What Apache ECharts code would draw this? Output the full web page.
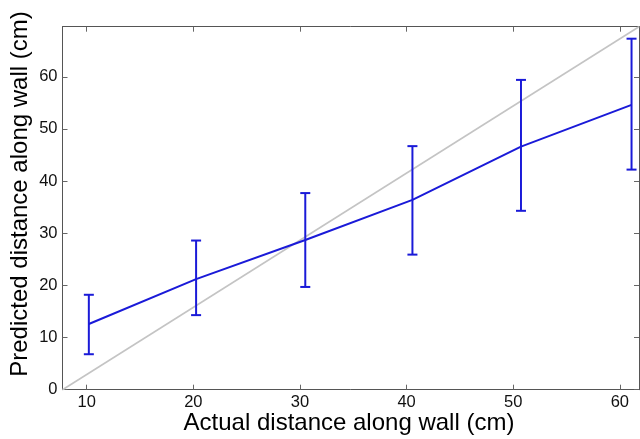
<!DOCTYPE html>
<html>
<head>
<meta charset="utf-8">
<script src="https://cdn.jsdelivr.net/npm/echarts@6/dist/echarts.min.js"></script>
<style>
html,body{margin:0;padding:0;background:#fff;}
#chart{width:640px;height:439px;}
</style>
</head>
<body>
<div id="chart"></div>
<script>
// Data
const xActual = [10.2, 20.26, 30.5, 40.55, 50.73, 61.1];
const meanPred = [12.6, 21.2, 28.7, 36.4, 46.6, 54.6];
const lowerPred = [6.8, 14.3, 19.7, 25.9, 34.3, 42.2];
const upperPred = [18.2, 28.6, 37.7, 46.7, 59.4, 67.3];
const refLineX = [7.73, 61.8];
const refLineY = [0, 69.6];
const xTickValues = [10, 20, 30, 40, 50, 60];
const yTickValues = [0, 10, 20, 30, 40, 50, 60];
const xTitle = 'Actual distance along wall (cm)';
const yTitle = 'Predicted distance along wall (cm)';

const X_MIN = 7.73, X_MAX = 61.8, Y_MIN = 0, Y_MAX = 69.6;
const FONT = 'Liberation Sans, Arial, sans-serif';
const AXIS_COLOR = '#555';
const BLUE = '#1a1ad8';

const meanData = xActual.map((x, i) => [x, meanPred[i]]);
const errData = xActual.map((x, i) => [x, lowerPred[i], upperPred[i]]);
const refData = refLineX.map((x, i) => [x, refLineY[i]]);

const chart = echarts.init(document.getElementById('chart'), null, {renderer: 'canvas'});

const axisLineStyle = {show: true, onZero: false, lineStyle: {color: AXIS_COLOR, width: 1}};
function ticks(vals) {
  return {show: true, inside: true, length: 5, customValues: vals, lineStyle: {color: '#666', width: 1}};
}

chart.setOption({
  animation: false,
  backgroundColor: '#fff',
  grid: {left: 62.5, top: 26.7, right: 1, bottom: 49.3, containLabel: false},
  xAxis: [
    {
      type: 'value', min: X_MIN, max: X_MAX, position: 'bottom',
      axisLine: axisLineStyle,
      axisTick: ticks(xTickValues),
      axisLabel: {show: true, customValues: xTickValues, color: '#111', fontSize: 16.5, fontFamily: FONT, margin: 4},
      splitLine: {show: false}
    },
    {
      type: 'value', min: X_MIN, max: X_MAX, position: 'top',
      axisLine: axisLineStyle,
      axisTick: ticks(xTickValues),
      axisLabel: {show: false},
      splitLine: {show: false}
    }
  ],
  yAxis: [
    {
      type: 'value', min: Y_MIN, max: Y_MAX, position: 'left',
      axisLine: axisLineStyle,
      axisTick: ticks(yTickValues),
      axisLabel: {show: true, customValues: yTickValues, color: '#111', fontSize: 16.5, fontFamily: FONT, margin: 5},
      splitLine: {show: false}
    },
    {
      type: 'value', min: Y_MIN, max: Y_MAX, position: 'right',
      axisLine: axisLineStyle,
      axisTick: ticks(yTickValues),
      axisLabel: {show: false},
      splitLine: {show: false}
    }
  ],
  graphic: [
    {
      type: 'text', x: 349, y: 423,
      style: {text: xTitle, font: '24px ' + FONT, fill: '#000', textAlign: 'center', textVerticalAlign: 'middle'}
    },
    {
      type: 'text', x: 20, y: 194, rotation: Math.PI / 2,
      style: {text: yTitle, font: '24px ' + FONT, fill: '#000', textAlign: 'center', textVerticalAlign: 'middle'}
    }
  ],
  series: [
    {
      type: 'line', data: refData, xAxisIndex: 0, yAxisIndex: 0,
      symbol: 'none', clip: true,
      lineStyle: {color: '#c4c4c4', width: 1.6}, z: 1
    },
    {
      type: 'line', data: meanData, xAxisIndex: 0, yAxisIndex: 0,
      symbol: 'none', clip: false,
      lineStyle: {color: BLUE, width: 2}, z: 3
    },
    {
      type: 'custom', data: errData, xAxisIndex: 0, yAxisIndex: 0,
      encode: {x: 0, y: [1, 2]}, clip: false, z: 4,
      renderItem: function (params, api) {
        const x = api.value(0);
        const lo = api.coord([x, api.value(1)]);
        const hi = api.coord([x, api.value(2)]);
        const hw = 5;
        const st = {stroke: BLUE, lineWidth: 2};
        return {
          type: 'group',
          children: [
            {type: 'line', shape: {x1: lo[0], y1: lo[1], x2: hi[0], y2: hi[1]}, style: st},
            {type: 'line', shape: {x1: lo[0] - hw, y1: lo[1], x2: lo[0] + hw, y2: lo[1]}, style: st},
            {type: 'line', shape: {x1: hi[0] - hw, y1: hi[1], x2: hi[0] + hw, y2: hi[1]}, style: st}
          ]
        };
      }
    }
  ]
});
</script>
</body>
</html>
